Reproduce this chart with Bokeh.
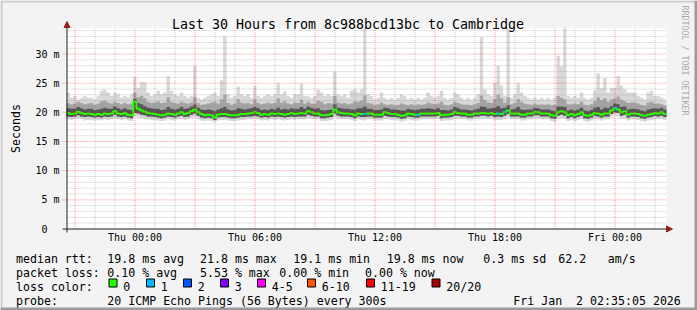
import numpy as np
from bokeh.plotting import figure
from bokeh.models import Range1d, FixedTicker, Label, BoxAnnotation, Arrow, NormalHead
from bokeh.embed import file_html
from bokeh.resources import INLINE

# ---------------- data ----------------
title_text = "Last 30 Hours from 8c988bcd13bc to Cambridge"
ylabel_text = "Seconds"
watermark = "RRDTOOL / TOBI OETIKER"
x_tick_hours = [0, 6, 12, 18, 24]          # hours after Thu 00:00
x_tick_labels = ["Thu 00:00", "Thu 06:00", "Thu 12:00", "Thu 18:00", "Fri 00:00"]
y_tick_ms = [0, 5, 10, 15, 20, 25, 30]
y_tick_labels = ["0\u00a0\u00a0", "5 m", "10 m", "15 m", "20 m", "25 m", "30 m"]
x_grid_major = list(range(-3, 27, 3))      # hours
x_grid_minor = list(range(-3, 27))
y_grid_major = [5, 10, 15, 20, 25, 30]     # ms
y_grid_minor = list(range(1, 35))

# 10-minute steps over 30 hours (Wed 20:35 .. Fri 02:35), values in ms
med_ms = [
    19.9, 19.7, 19.8, 20.1, 19.9, 19.7, 19.8, 19.7, 19.6, 19.7, 19.6, 19.8, 19.7, 19.8, 20.2, 19.8, 19.7, 19.9,
    19.6, 19.5, 21.8, 20.6, 20.3, 20.1, 19.9, 19.8, 19.7, 19.6, 19.5, 19.6, 19.8, 19.7, 19.6, 19.8, 20.0, 19.7,
    19.9, 20.2, 20.5, 20.0, 19.7, 19.5, 19.6, 19.5, 19.1, 19.6, 19.7, 19.7, 19.6, 19.5, 19.5, 19.6, 19.7, 19.7,
    19.8, 19.9, 20.0, 19.9, 19.6, 19.7, 19.6, 19.8, 19.7, 19.8, 19.7, 19.6, 19.7, 19.9, 19.7, 19.8, 19.9, 19.8,
    20.2, 20.0, 19.8, 19.8, 19.5, 19.5, 19.6, 19.7, 20.5, 20.0, 19.9, 19.8, 19.8, 19.7, 19.5, 19.8, 19.7, 19.7,
    19.8, 19.8, 19.6, 19.6, 19.6, 20.0, 19.9, 19.7, 19.7, 19.6, 19.4, 19.5, 19.8, 19.7, 19.6, 19.6, 19.8, 19.8,
    19.8, 19.8, 19.8, 19.9, 19.5, 19.6, 19.6, 19.7, 20.0, 19.9, 19.8, 19.8, 19.6, 19.6, 19.8, 19.8, 19.9, 19.9,
    19.8, 19.9, 19.7, 19.8, 19.7, 20.0, 20.3, 19.8, 19.8, 19.8, 19.6, 19.6, 19.8, 19.8, 20.0, 20.0, 19.8, 19.8,
    19.8, 19.5, 19.4, 20.0, 20.2, 20.0, 19.5, 19.7, 19.5, 19.7, 20.0, 19.5, 19.4, 19.6, 19.9, 19.8, 19.6, 19.8,
    19.8, 20.3, 20.7, 20.5, 20.0, 20.2, 19.6, 19.8, 19.8, 19.7, 19.5, 19.4, 19.6, 19.7, 19.9, 19.8, 20.0, 19.7,
]
top_ms = [
    23.4, 22.5, 22.8, 22.2, 22.5, 22.8, 22.5, 22.5, 22.2, 22.8, 23.7, 23.9, 23.4, 22.8, 23.4, 23.1, 22.5, 22.8,
    22.5, 23.1, 26.0, 24.2, 25.2, 25.1, 23.4, 22.8, 23.1, 23.7, 23.1, 23.4, 26.2, 23.7, 23.1, 22.8, 23.4, 22.8,
    22.5, 22.8, 28.0, 22.5, 22.2, 22.5, 22.8, 23.1, 23.4, 22.8, 25.5, 33.0, 23.1, 22.5, 22.8, 24.4, 23.1, 22.8,
    23.1, 22.5, 24.5, 22.8, 22.5, 22.8, 23.1, 22.8, 23.1, 25.0, 23.1, 23.6, 22.8, 22.5, 23.1, 23.1, 24.9, 22.8,
    22.8, 22.5, 22.8, 23.9, 23.4, 22.8, 23.1, 22.8, 27.0, 23.1, 22.8, 23.1, 22.5, 23.7, 23.9, 23.4, 23.9, 34.5,
    23.1, 22.8, 22.2, 22.5, 23.4, 22.5, 22.2, 22.5, 22.2, 22.5, 23.1, 22.8, 22.2, 22.5, 22.2, 22.5, 22.2, 22.5,
    23.4, 22.8, 22.5, 22.8, 23.7, 22.5, 22.2, 22.5, 23.4, 23.1, 22.5, 22.2, 22.5, 22.2, 22.5, 23.1, 32.9, 23.9,
    23.1, 22.8, 25.0, 28.0, 24.6, 22.8, 34.5, 22.5, 23.1, 25.0, 23.4, 22.8, 22.5, 22.2, 22.5, 22.2, 22.5, 22.2,
    22.5, 22.2, 22.5, 29.7, 27.9, 34.5, 22.8, 22.5, 22.8, 22.5, 23.4, 22.5, 22.2, 22.5, 23.7, 26.7, 24.2, 25.9,
    23.4, 24.2, 24.2, 26.2, 24.6, 23.9, 23.4, 23.4, 23.4, 22.8, 22.5, 22.2, 23.4, 23.7, 22.8, 22.8, 22.5, 22.2,
]
hi2_ms = [
    21.6, 21.4, 21.5, 21.8, 21.6, 21.4, 21.5, 21.6, 21.3, 21.5, 21.9, 22.0, 21.7, 21.5, 21.8, 21.6, 21.4, 21.6,
    21.4, 21.5, 23.4, 22.6, 22.8, 22.4, 21.8, 21.6, 21.7, 21.9, 21.6, 21.7, 22.6, 21.8, 21.6, 21.5, 21.8, 21.6,
    21.5, 21.7, 22.6, 21.6, 21.3, 21.4, 21.5, 21.7, 21.8, 21.5, 22.2, 23.0, 21.6, 21.3, 21.5, 22.3, 21.7, 21.5,
    21.6, 21.4, 22.2, 21.6, 21.4, 21.5, 21.7, 21.5, 21.6, 22.4, 21.7, 21.9, 21.5, 21.4, 21.7, 21.6, 22.2, 21.5,
    21.8, 21.5, 21.5, 22.0, 21.8, 21.4, 21.6, 21.5, 22.8, 21.7, 21.5, 21.6, 21.4, 21.5, 21.9, 21.8, 22.0, 22.9,
    21.6, 21.5, 21.2, 21.4, 21.7, 21.4, 21.3, 21.4, 21.2, 21.3, 21.5, 21.4, 21.2, 21.4, 21.2, 21.4, 21.3, 21.4,
    21.7, 21.5, 21.4, 21.5, 21.8, 21.3, 21.2, 21.4, 21.8, 21.6, 21.4, 21.3, 21.3, 21.2, 21.4, 21.6, 22.9, 22.1,
    21.7, 21.6, 22.3, 23.0, 22.4, 21.6, 22.6, 21.4, 21.6, 22.3, 21.8, 21.5, 21.4, 21.3, 21.5, 21.3, 21.4, 21.3,
    21.4, 21.2, 21.3, 22.8, 22.5, 22.2, 21.4, 21.4, 21.5, 21.4, 21.8, 21.3, 21.2, 21.4, 21.9, 22.6, 22.1, 22.4,
    21.8, 22.2, 22.4, 22.7, 22.2, 21.9, 21.6, 21.7, 21.7, 21.5, 21.3, 21.2, 21.7, 21.8, 21.5, 21.5, 21.4, 21.2,
]
hi1_ms = [
    20.7, 20.6, 20.6, 20.9, 20.7, 20.5, 20.6, 20.6, 20.4, 20.5, 20.6, 20.8, 20.6, 20.6, 21.0, 20.7, 20.5, 20.7,
    20.5, 20.4, 22.3, 21.6, 21.4, 21.1, 20.8, 20.7, 20.6, 20.6, 20.4, 20.5, 20.9, 20.6, 20.5, 20.6, 20.9, 20.6,
    20.7, 21.0, 21.3, 20.8, 20.5, 20.4, 20.5, 20.4, 20.2, 20.5, 20.7, 20.9, 20.5, 20.3, 20.4, 20.7, 20.6, 20.5,
    20.6, 20.7, 20.9, 20.7, 20.4, 20.5, 20.4, 20.6, 20.5, 20.8, 20.5, 20.6, 20.5, 20.7, 20.6, 20.6, 20.9, 20.6,
    21.0, 20.8, 20.6, 20.7, 20.4, 20.3, 20.4, 20.5, 21.4, 20.8, 20.7, 20.6, 20.6, 20.5, 20.5, 20.7, 20.7, 21.0,
    20.6, 20.6, 20.4, 20.4, 20.5, 20.8, 20.7, 20.5, 20.5, 20.4, 20.3, 20.3, 20.6, 20.5, 20.4, 20.5, 20.6, 20.6,
    20.7, 20.6, 20.5, 20.7, 20.4, 20.4, 20.3, 20.5, 20.9, 20.7, 20.5, 20.5, 20.4, 20.3, 20.5, 20.6, 21.0, 20.9,
    20.6, 20.7, 20.8, 21.1, 20.7, 20.8, 21.2, 20.5, 20.6, 20.9, 20.5, 20.4, 20.5, 20.5, 20.8, 20.7, 20.5, 20.5,
    20.5, 20.3, 20.2, 21.0, 21.0, 20.9, 20.3, 20.5, 20.3, 20.5, 20.8, 20.3, 20.2, 20.4, 20.8, 20.9, 20.5, 20.8,
    20.7, 21.1, 21.5, 21.4, 20.9, 21.0, 20.5, 20.6, 20.6, 20.5, 20.3, 20.2, 20.5, 20.6, 20.7, 20.6, 20.8, 20.5,
]
lo1_ms = [
    19.3, 19.2, 19.3, 19.5, 19.3, 19.2, 19.3, 19.2, 19.1, 19.2, 19.1, 19.3, 19.2, 19.3, 19.6, 19.3, 19.2, 19.3,
    19.1, 19.0, 19.9, 19.8, 19.6, 19.5, 19.3, 19.3, 19.2, 19.1, 19.0, 19.1, 19.3, 19.2, 19.1, 19.3, 19.4, 19.2,
    19.3, 19.6, 19.8, 19.4, 19.1, 19.0, 19.1, 19.0, 18.7, 19.1, 19.2, 19.2, 19.1, 19.0, 19.0, 19.1, 19.2, 19.2,
    19.3, 19.3, 19.4, 19.3, 19.1, 19.2, 19.1, 19.3, 19.2, 19.3, 19.2, 19.1, 19.2, 19.3, 19.2, 19.3, 19.3, 19.3,
    19.6, 19.4, 19.3, 19.3, 19.0, 19.0, 19.1, 19.2, 19.8, 19.4, 19.3, 19.3, 19.3, 19.2, 19.0, 19.3, 19.2, 19.2,
    19.3, 19.3, 19.1, 19.1, 19.1, 19.4, 19.3, 19.2, 19.2, 19.1, 18.9, 19.0, 19.3, 19.2, 19.1, 19.1, 19.3, 19.3,
    19.3, 19.3, 19.3, 19.4, 19.0, 19.1, 19.1, 19.2, 19.4, 19.4, 19.3, 19.3, 19.1, 19.1, 19.3, 19.3, 19.4, 19.4,
    19.3, 19.4, 19.2, 19.3, 19.2, 19.4, 19.7, 19.3, 19.3, 19.3, 19.1, 19.1, 19.3, 19.3, 19.5, 19.5, 19.3, 19.3,
    19.3, 19.0, 18.9, 19.4, 19.6, 19.4, 19.0, 19.2, 19.0, 19.2, 19.4, 19.0, 18.9, 19.1, 19.4, 19.3, 19.1, 19.3,
    19.3, 19.7, 20.0, 19.9, 19.4, 19.6, 19.1, 19.3, 19.3, 19.2, 19.0, 18.9, 19.1, 19.2, 19.4, 19.3, 19.4, 19.2,
]
lo_ms = [
    18.8, 18.7, 18.8, 18.9, 18.8, 18.6, 18.7, 18.7, 18.6, 18.7, 18.6, 18.8, 18.7, 18.8, 19.0, 18.8, 18.7, 18.8,
    18.6, 18.5, 19.3, 19.1, 19.0, 18.9, 18.8, 18.7, 18.7, 18.6, 18.5, 18.6, 18.8, 18.7, 18.6, 18.8, 18.9, 18.7,
    18.8, 19.0, 19.2, 18.9, 18.6, 18.5, 18.6, 18.5, 18.3, 18.6, 18.7, 18.7, 18.6, 18.5, 18.5, 18.6, 18.7, 18.7,
    18.8, 18.8, 18.9, 18.8, 18.6, 18.7, 18.6, 18.8, 18.7, 18.8, 18.7, 18.6, 18.7, 18.8, 18.7, 18.8, 18.8, 18.8,
    19.0, 18.9, 18.8, 18.8, 18.5, 18.5, 18.6, 18.7, 19.2, 18.9, 18.8, 18.8, 18.8, 18.7, 18.5, 18.8, 18.7, 18.6,
    18.8, 18.8, 18.6, 18.6, 18.6, 18.9, 18.8, 18.7, 18.7, 18.6, 18.4, 18.5, 18.8, 18.7, 18.6, 18.6, 18.8, 18.8,
    18.8, 18.8, 18.8, 18.9, 18.5, 18.6, 18.6, 18.7, 18.9, 18.9, 18.8, 18.8, 18.6, 18.6, 18.8, 18.8, 18.9, 18.9,
    18.8, 18.9, 18.7, 18.7, 18.7, 18.9, 19.1, 18.8, 18.8, 18.8, 18.6, 18.6, 18.8, 18.8, 19.0, 19.0, 18.8, 18.8,
    18.8, 18.5, 18.4, 18.9, 19.0, 18.9, 18.5, 18.7, 18.5, 18.7, 18.9, 18.5, 18.4, 18.6, 18.8, 18.8, 18.6, 18.8,
    18.8, 19.1, 19.4, 19.3, 18.9, 19.0, 18.6, 18.8, 18.8, 18.7, 18.5, 18.4, 18.6, 18.7, 18.9, 18.8, 18.9, 18.7,
]
# steps where pings were lost (index into the arrays above) and how many
loss_step = [89, 105, 129, 131, 164]
loss_count = [1, 1, 1, 1, 1]

# legend
rtt_row = ["median rtt:", "19.8 ms avg", "21.8 ms max", "19.1 ms min", "19.8 ms now", "0.3 ms sd", "62.2", "am/s"]
loss_row = ["packet loss:", "0.10 % avg", "5.53 % max", "0.00 % min", "0.00 % now"]
loss_names = ["0", "1", "2", "3", "4-5", "6-10", "11-19", "20/20"]
loss_colors = ["#26ff00", "#00b8ff", "#0059ff", "#7e00ff", "#ff00ff", "#ff5500", "#ff0000", "#a10000"]
probe_row = ["probe:", "20 ICMP Echo Pings (56 Bytes) every 300s", "Fri Jan \u00a02 02:35:05 2026"]

# ---------------- layout: the frame is the whole canvas ----------------
W, H = 697, 310
PX0, PXH = 66.0, 20.0          # pixel of the window start, pixels per hour
PY0, PXMS = 228.5, 5.8333      # pixel of 0 ms, pixels per ms
T0 = -(3 + 25.5 / 60)          # window start (hours relative to Thu 00:00)
T1 = T0 + 30.0
FONT = "DejaVu Sans Mono"


def px2x(px):
    return T0 + (px - PX0) / PXH


def px2y(py):
    return (PY0 - py) / PXMS


YTOP = px2y(28)

p = figure(width=W, height=H, x_range=Range1d(px2x(0), px2x(W)), y_range=Range1d(px2y(H), px2y(0)),
           output_backend="svg", toolbar_location=None, title=None,
           min_border=0, min_border_left=0, min_border_right=0, min_border_top=0, min_border_bottom=0)
p.border_fill_color = "#f3f3f3"
p.background_fill_color = "#f3f3f3"
p.outline_line_color = None
p.grid.visible = False

# plot canvas
p.quad(left=[T0], right=[T1], bottom=[0], top=[YTOP], fill_color="#ffffff", line_color=None)

# ---------------- smoke + median ----------------
n = min(len(med_ms), len(top_ms), len(hi2_ms), len(hi1_ms), len(lo1_ms), len(lo_ms))
edges = T0 + np.arange(n + 1) * (30.0 / n)
xs = np.repeat(edges, 2)[1:-1]


def st(a):
    return np.minimum(np.repeat(np.asarray(a[:n], dtype=float), 2), YTOP)


p.varea(x=xs, y1=st(lo_ms), y2=st(top_ms), fill_color="#d8d8d8")
p.varea(x=xs, y1=st(lo1_ms), y2=st(hi2_ms), fill_color="#a4a4a4")
p.varea(x=xs, y1=st(lo1_ms), y2=st(hi1_ms), fill_color="#555555")
p.line(x=xs, y=st(med_ms), line_color=loss_colors[0], line_width=2)


def loss_class(c):
    if c <= 3:
        return c
    if c <= 5:
        return 4
    if c <= 10:
        return 5
    if c <= 19:
        return 6
    return 7


lx0 = [edges[i] for i in loss_step]
lx1 = [edges[i + 1] for i in loss_step]
ly = [med_ms[i] for i in loss_step]
lc = [loss_colors[loss_class(c)] for c in loss_count]
p.segment(x0=lx0, y0=ly, x1=lx1, y1=ly, line_color=lc, line_width=2)

# ---------------- grid (dotted, drawn over the data like rrdtool) ----------------
xmin = [h for h in x_grid_minor if h not in x_grid_major]
ymin = [v for v in y_grid_minor if v not in y_grid_major]
p.segment(x0=xmin, x1=xmin, y0=[0] * len(xmin), y1=[YTOP] * len(xmin),
          line_color="#8a8a8a", line_alpha=0.45, line_dash="1 1", line_width=1)
p.segment(x0=[T0] * len(ymin), x1=[T1] * len(ymin), y0=ymin, y1=ymin,
          line_color="#8a8a8a", line_alpha=0.45, line_dash="1 1", line_width=1)
p.segment(x0=x_grid_major, x1=x_grid_major, y0=[0] * len(x_grid_major), y1=[YTOP] * len(x_grid_major),
          line_color="#ff0000", line_alpha=0.4, line_dash="1 1", line_width=1)
p.segment(x0=[px2x(62)] * len(y_grid_major), x1=[T1] * len(y_grid_major), y0=y_grid_major, y1=y_grid_major,
          line_color="#ff0000", line_alpha=0.4, line_dash="1 1", line_width=1)

# ---------------- axes (library axes, fixed at the plot origin) ----------------
p.xaxis.ticker = FixedTicker(ticks=x_tick_hours)
p.xaxis.major_label_overrides = dict(zip(x_tick_hours, x_tick_labels))
p.xaxis.fixed_location = 0
p.xaxis.bounds = (T0, T1)
p.yaxis.ticker = FixedTicker(ticks=y_tick_ms)
p.yaxis.major_label_overrides = dict(zip(y_tick_ms, y_tick_labels))
p.yaxis.fixed_location = T0
p.yaxis.bounds = (0, YTOP)
for ax in (p.xaxis[0], p.yaxis[0]):
    ax.axis_line_color = None
    ax.major_tick_line_color = None
    ax.minor_tick_line_color = None
    ax.major_tick_in = 0
    ax.major_tick_out = 0
    ax.minor_tick_in = 0
    ax.minor_tick_out = 0
    ax.major_label_text_font = FONT
    ax.major_label_text_font_size = "10px"
    ax.major_label_text_color = "#000000"
p.xaxis.major_label_standoff = 3
p.yaxis.major_label_standoff = 7

AXC = "#1e1e1e"
ARC = "#9a1f1f"
p.add_layout(Arrow(x_start=px2x(62), y_start=0, x_end=px2x(672), y_end=0,
                   line_color=AXC, line_width=1,
                   end=NormalHead(size=6, fill_color=ARC, line_color=ARC, line_width=1)))
p.add_layout(Arrow(x_start=px2x(66.5), y_start=px2y(232), x_end=px2x(66.5), y_end=px2y(21),
                   line_color=AXC, line_width=1,
                   end=NormalHead(size=6, fill_color=ARC, line_color=ARC, line_width=1)))


# ---------------- texts ----------------
def txt(s, px, py, size="11.6px", align="left", baseline="alphabetic", angle=0.0, color="#000000"):
    p.add_layout(Label(x=px2x(px), y=px2y(py), text=s, text_font=FONT, text_font_size=size,
                       text_align=align, text_baseline=baseline, angle=angle, text_color=color))


txt(title_text, 347.5, 24, size="13.3px", align="center")
txt(ylabel_text, 15.5, 128, size="11.6px", align="center", angle=np.pi / 2)
txt(watermark, 684.5, 5, size="8.3px", align="left", angle=-np.pi / 2, color="#a9a9a9")

rtt_x = [15.5, 106.8, 199.5, 292.8, 386.2, 482.8, 557.8, 607.2]
for s, x in zip(rtt_row, rtt_x):
    txt(s, x, 258)
loss_x = [15.5, 106.8, 199.5, 278.8, 364.5]
for s, x in zip(loss_row, loss_x):
    txt(s, x, 272)
txt("loss color:", 15.5, 286)
sw_x = [108, 145.5, 182.5, 219.5, 256.5, 306.5, 365.5, 431]
for name, col, x in zip(loss_names, loss_colors, sw_x):
    p.add_layout(BoxAnnotation(left=px2x(x + 0.5), right=px2x(x + 8.5), top=px2y(278.5), bottom=px2y(286.5),
                               fill_color=col, fill_alpha=1.0, line_color="#000000",
                               line_alpha=1.0, line_width=1))
    txt(name, x + 14.8, 286)
probe_x = [15.5, 106.8, 512.8]
for s, x in zip(probe_row, probe_x):
    txt(s, x, 300)


# ---------------- image frame (bevel) ----------------
def band(x0, x1, y0, y1, col):
    p.add_layout(BoxAnnotation(left=px2x(x0), right=px2x(x1), top=px2y(y0), bottom=px2y(y1),
                               fill_color=col, fill_alpha=1.0, line_color=None))


band(0, W, 0, 2, "#cbcbcb")
band(0, 2, 0, H, "#cbcbcb")
band(0, W, H - 3, H, "#9b9b9b")
band(W - 3, W, 0, H, "#9b9b9b")

open("out.html", "w").write(file_html(p, INLINE))
